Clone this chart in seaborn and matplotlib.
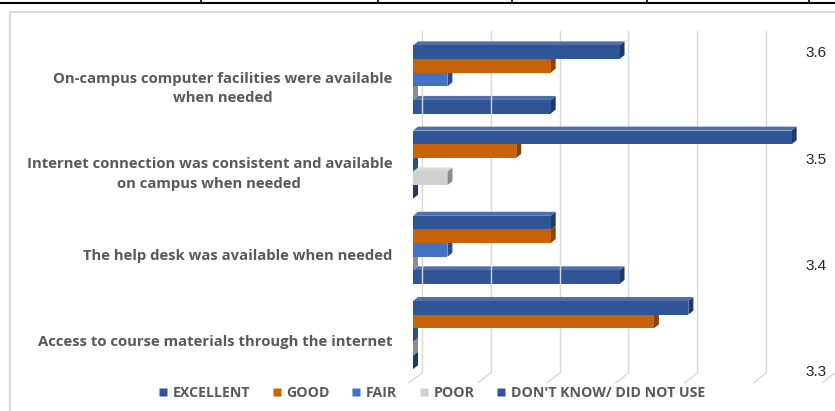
import matplotlib.pyplot as plt
from matplotlib.colors import to_rgb
from matplotlib.lines import Line2D
from matplotlib.patches import Polygon, Rectangle
import matplotlib.transforms as mtransforms
import numpy as np
import pandas as pd
import seaborn as sns


items = ['On-campus computer facilities were available\nwhen needed',
         'Internet connection was consistent and available\non campus when needed',
         'The help desk was available when needed',
         'Access to course materials through the internet']
ratings = ['EXCELLENT', 'GOOD', 'FAIR', 'POOR', "DON'T KNOW/ DID NOT USE"]

excellent = [3.0, 5.5, 2.0, 4.0]
good = [2.0, 1.5, 2.0, 3.5]
fair = [0.5, 0.0, 0.5, 0.0]
poor = [0.0, 0.5, 0.0, 0.0]
dont_know = [2.0, 0.0, 3.0, 0.0]

right_ticks = [3.3, 3.4, 3.5, 3.6]

colors = ['#2F5597', '#C8630A', '#4472C4', '#D0D0D0', '#2F5597']
label_grey = '#595959'

df = pd.DataFrame({
    'item': items * len(ratings),
    'rating': np.repeat(ratings, len(items)),
    'value': excellent + good + fair + poor + dont_know,
})

sns.set_style('white')
plt.rcParams['font.family'] = ['Open Sans', 'DejaVu Sans']

W, H = 835, 411
fig = plt.figure(figsize=(W / 100, H / 100), dpi=100)
ax = fig.add_axes([413 / W, 38 / H, 422 / W, 342 / H])

sns.barplot(data=df, x='value', y='item', hue='rating', order=items, hue_order=ratings,
            palette=colors, orient='h', width=0.8, saturation=1, errorbar=None,
            legend=False, linewidth=0, ax=ax)

xmax = 6.13
ylo, yhi = -0.569, 3.445
px_x = xmax / 422
px_y = (yhi - ylo) / 342

# fake 3D: side and top faces for every bar
dx, dy = 5 * px_x, 4 * px_y
for i, cont in enumerate(ax.containers):
    base = 10 - 3 * i
    c = np.array(to_rgb(colors[i]))
    side_c = c * 0.68
    top_c = c + (1 - c) * 0.15
    for bar in cont:
        x0, yt = bar.get_x(), bar.get_y()
        w, h = bar.get_width(), bar.get_height()
        yb = yt + h
        bar.set_zorder(base)
        ax.add_patch(Polygon([(x0 + w, yb), (x0 + w + dx, yb - dy), (x0 + w + dx, yt - dy), (x0 + w, yt)],
                             closed=True, fc=side_c, ec='none', zorder=base - 0.5))
        ax.add_patch(Polygon([(x0, yt), (x0 + w, yt), (x0 + w + dx, yt - dy), (x0 + dx, yt - dy)],
                             closed=True, fc=top_c, ec='none', zorder=base - 0.5))

# back wall gridlines + floor edges
grid_x = np.arange(7) + 0.13
ax.set_xticks(grid_x)
ax.xaxis.grid(True, color='#D9D9D9', lw=1)
ax.set_axisbelow(True)
for g in grid_x:
    ax.plot([g, g - 13 * px_x], [yhi, yhi + 10 * px_y], color='#D9D9D9', lw=1, clip_on=False)

ax.set_xlim(0, xmax)
ax.set_ylim(yhi, ylo)
ax.set_xlabel('')
ax.set_ylabel('')
ax.tick_params(axis='x', length=0, labelbottom=False)
ax.tick_params(axis='y', length=0, pad=15)
sns.despine(ax=ax, left=True, bottom=True)

shift = mtransforms.ScaledTranslation(0, -0.05, fig.dpi_scale_trans)
for lbl in ax.get_yticklabels():
    lbl.set_multialignment('center')
    lbl.set_linespacing(1.5)
    lbl.set_fontweight('bold')
    lbl.set_fontsize(10.7)
    lbl.set_color(label_grey)
    lbl.set_transform(lbl.get_transform() + shift)

# secondary axis on the right
ax2 = ax.twinx()
ax2.set_ylim(3.298, 3.6195)
ax2.set_yticks(right_ticks)
ax2.set_yticklabels([f'{v:.1f}' for v in right_ticks], family='Liberation Sans', fontsize=11)
ax2.tick_params(axis='y', length=0, pad=-21.6)
ax2.grid(False)
sns.despine(ax=ax2, left=True, bottom=True, right=True, top=True)

handles = [Line2D([0], [0], marker='s', linestyle='', markersize=5.5,
                  markerfacecolor=c, markeredgecolor='none') for c in colors]
fig.legend(handles, ratings, loc='center', bbox_to_anchor=(431 / W, 1 - 393 / H), ncol=5,
           frameon=False, handletextpad=0.3, columnspacing=1.45, handlelength=0.8,
           prop={'weight': 'bold', 'size': 10.2}, labelcolor=label_grey)

# chart frame and the table border above it
fig.add_artist(Rectangle((10 / W, -0.05), 1.0, 1 - 12 / H + 0.05, transform=fig.transFigure,
                         fill=False, ec='#D9D9D9', lw=1.5))
fig.add_artist(Line2D([0, 1], [1 - 3.5 / H] * 2, color='black', lw=1.5, transform=fig.transFigure))
for vx in [201, 378, 512, 647, 809]:
    fig.add_artist(Line2D([vx / W] * 2, [1 - 3.5 / H, 1], color='black', lw=1.2, transform=fig.transFigure))

fig.savefig('out.png', dpi=100)
